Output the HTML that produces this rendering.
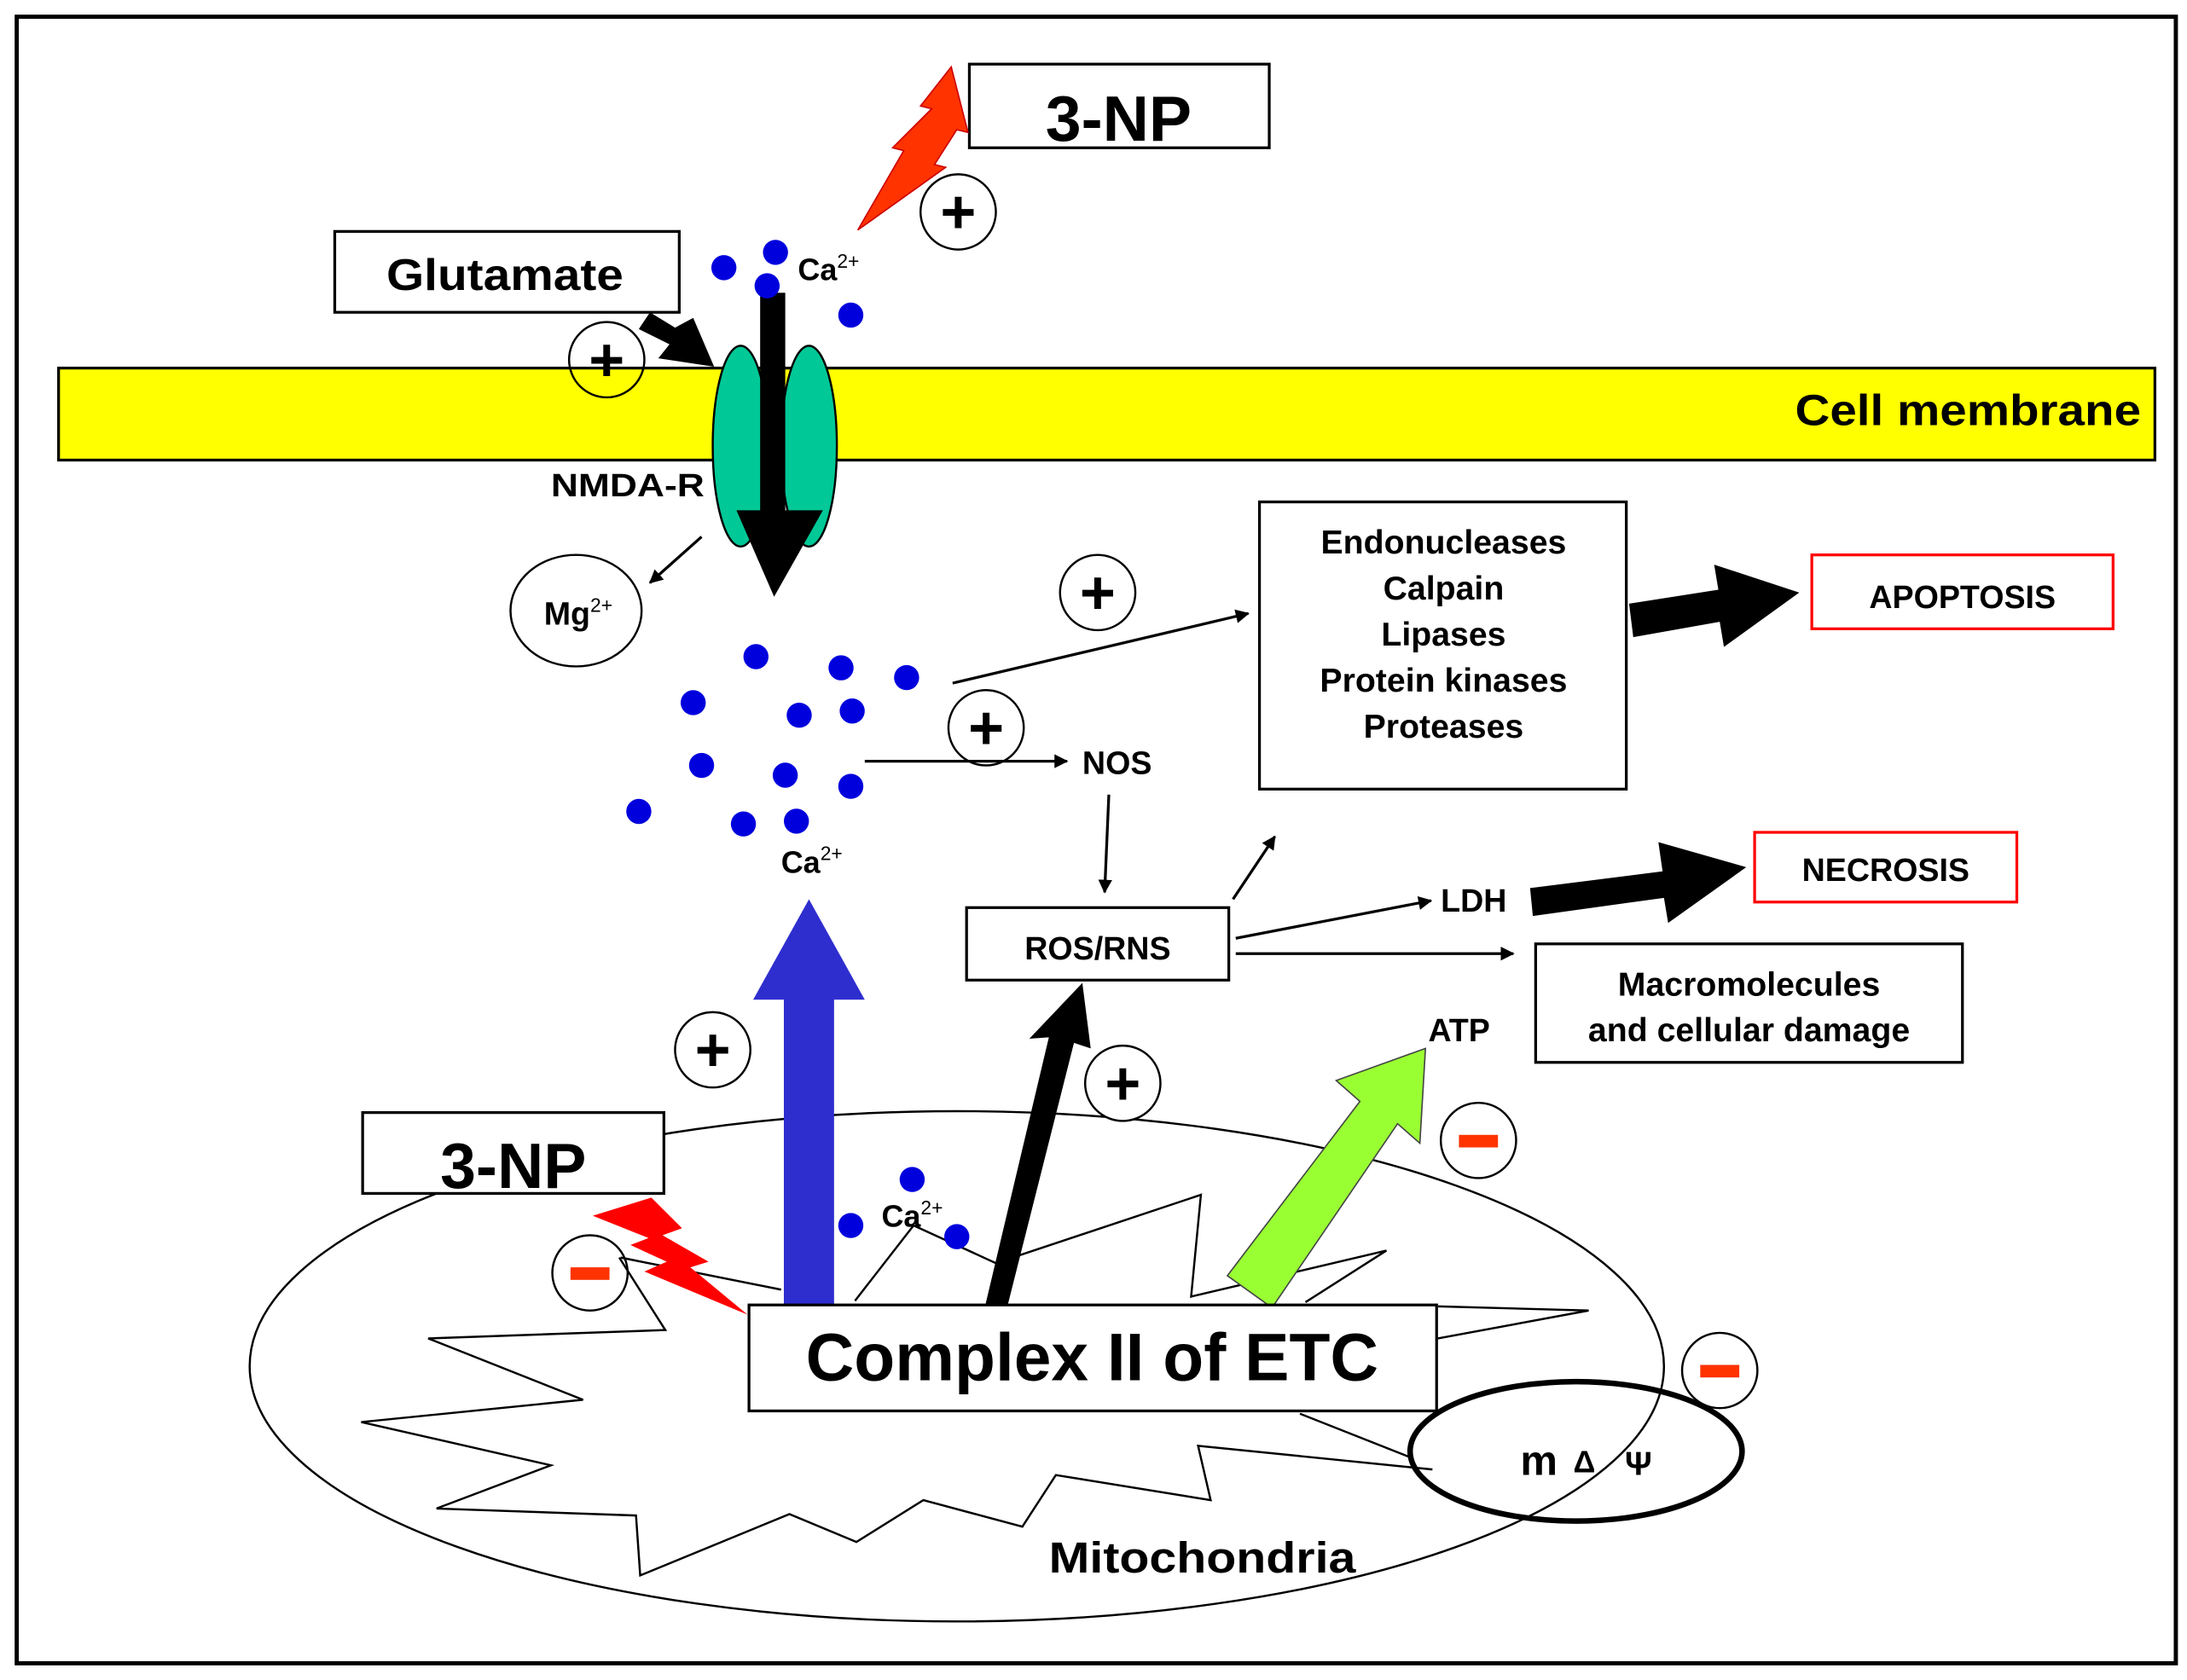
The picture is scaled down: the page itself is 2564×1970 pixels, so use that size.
<!DOCTYPE html>
<html><head><meta charset="utf-8"><style>
html,body{margin:0;padding:0;background:#fff;}
svg{display:block;}
text{font-family:"Liberation Sans",Arial,sans-serif;font-weight:bold;fill:#000;}
</style></head><body>
<svg width="2564" height="1970" viewBox="0 0 1568 1205" preserveAspectRatio="none" xmlns="http://www.w3.org/2000/svg">
<defs>
<marker id="ah" markerWidth="10" markerHeight="10" refX="9" refY="5" orient="auto" markerUnits="userSpaceOnUse"><path d="M0,0 L18,5 L0,10 z" transform="scale(0.55,1)" fill="#000"/></marker>
</defs>
<rect x="0" y="0" width="1568" height="1205" fill="#fff"/>
<rect x="12" y="12" width="1548" height="1181" fill="none" stroke="#000" stroke-width="3"/>

<!-- membrane -->
<rect x="42" y="264" width="1503" height="66" fill="#ffff00" stroke="#000" stroke-width="2"/>
<text x="1287" y="305" font-size="31" textLength="248" lengthAdjust="spacingAndGlyphs">Cell membrane</text>

<!-- mitochondria -->
<ellipse cx="686" cy="980" rx="507" ry="183" fill="none" stroke="#000" stroke-width="1.5"/>
<polyline fill="none" stroke="#000" stroke-width="1.5" points="444,902 477,954 307,960 418,1004 259,1020 395,1051 313,1082 456,1087 459,1130 566,1086 614,1106 662,1076 733,1095 757,1058 868,1076 859,1037 1027,1054"/>
<polyline fill="none" stroke="#000" stroke-width="1.5" points="445,902 560,925"/>
<polyline fill="none" stroke="#000" stroke-width="1.5" points="613,933 655,879 714,906 861,857 854,930 994,897 936,934"/>
<polyline fill="none" stroke="#000" stroke-width="1.5" points="1031,937 1139,940 1031,960"/>
<line x1="932" y1="1014" x2="1013" y2="1046" stroke="#000" stroke-width="1.5"/>
<text x="752" y="1128" font-size="31" textLength="220" lengthAdjust="spacingAndGlyphs">Mitochondria</text>

<!-- mΔΨ -->
<ellipse cx="1130" cy="1041" rx="119" ry="50" fill="none" stroke="#000" stroke-width="4"/>
<text x="1090" y="1058" font-size="30">m</text>
<text x="1128" y="1056" font-size="22" font-weight="normal">Δ</text>
<text x="1165" y="1058" font-size="24">Ψ</text>

<!-- glutamate -->
<rect x="240" y="166" width="247" height="58" fill="#fff" stroke="#000" stroke-width="2"/>
<text x="277" y="208" font-size="32" textLength="170" lengthAdjust="spacingAndGlyphs">Glutamate</text>
<polygon points="458,236 466,224 484,235 497,228 512,263 472,257 480,247" fill="#000"/>

<!-- top 3-NP -->
<rect x="695" y="46" width="215" height="60" fill="#fff" stroke="#000" stroke-width="2"/>
<text x="802" y="101" font-size="46" text-anchor="middle">3-NP</text>
<polygon points="615,165 648,108 640,106 668,78 660,76 682,48 694,95 686,93 670,118 678,120" fill="#ff3300" stroke="#cc0000" stroke-width="1"/>

<!-- NMDA-R -->
<ellipse cx="531" cy="320" rx="20" ry="72" fill="#00c897" stroke="#000" stroke-width="1.5"/>
<ellipse cx="580" cy="320" rx="20" ry="72" fill="#00c897" stroke="#000" stroke-width="1.5"/>
<rect x="545" y="210" width="18" height="158" fill="#000"/>
<polygon points="528,366 590,366 555,428" fill="#000"/>
<text x="395" y="356" font-size="23" textLength="110" lengthAdjust="spacingAndGlyphs">NMDA-R</text>

<!-- Ca -->
<g fill="#0000dd">
<circle cx="519" cy="192" r="9"/><circle cx="556" cy="181" r="9"/><circle cx="550" cy="205" r="9"/><circle cx="610" cy="226" r="9"/>
<circle cx="542" cy="471" r="9"/><circle cx="603" cy="479" r="9"/><circle cx="650" cy="486" r="9"/><circle cx="497" cy="504" r="9"/>
<circle cx="573" cy="513" r="9"/><circle cx="611" cy="510" r="9"/><circle cx="503" cy="549" r="9"/><circle cx="563" cy="556" r="9"/>
<circle cx="610" cy="564" r="9"/><circle cx="458" cy="582" r="9"/><circle cx="533" cy="591" r="9"/><circle cx="571" cy="589" r="9"/>
<circle cx="654" cy="846" r="9"/><circle cx="610" cy="879" r="9"/><circle cx="686" cy="887" r="9"/>
</g>
<text x="572" y="201" font-size="22">Ca<tspan font-size="14" dy="-9" font-weight="normal">2+</tspan></text>
<text x="560" y="626" font-size="22">Ca<tspan font-size="14" dy="-9" font-weight="normal">2+</tspan></text>
<text x="632" y="880" font-size="22">Ca<tspan font-size="14" dy="-9" font-weight="normal">2+</tspan></text>

<!-- Mg -->
<ellipse cx="413" cy="438" rx="47" ry="40" fill="none" stroke="#000" stroke-width="1.5"/>
<text x="390" y="448" font-size="23">Mg<tspan font-size="14" dy="-9" font-weight="normal">2+</tspan></text>
<line x1="503" y1="385" x2="466" y2="418" stroke="#000" stroke-width="2" marker-end="url(#ah)"/>

<!-- plus circles -->
<g stroke="#000" stroke-width="1.5" fill="#fff">
<circle cx="687" cy="152" r="27"/><circle cx="435" cy="258" r="27" fill="none"/><circle cx="787" cy="425" r="27"/>
<circle cx="707" cy="522" r="27" fill="none"/><circle cx="511" cy="753" r="27"/><circle cx="805" cy="777" r="27"/>
</g>
<g font-size="44" font-weight="normal" text-anchor="middle">
<text x="687" y="167">+</text><text x="435" y="273">+</text><text x="787" y="440">+</text>
<text x="707" y="537">+</text><text x="511" y="768">+</text><text x="805" y="792">+</text>
</g>

<!-- arrows -->
<line x1="683" y1="490" x2="895" y2="440" stroke="#000" stroke-width="2" marker-end="url(#ah)"/>
<line x1="620" y1="546" x2="765" y2="546" stroke="#000" stroke-width="2" marker-end="url(#ah)"/>
<text x="776" y="555" font-size="23">NOS</text>
<line x1="795" y1="570" x2="792" y2="640" stroke="#000" stroke-width="2" marker-end="url(#ah)"/>

<!-- enzymes -->
<rect x="903" y="360" width="263" height="206" fill="#fff" stroke="#000" stroke-width="2"/>
<g font-size="24" text-anchor="middle">
<text x="1035" y="397">Endonucleases</text><text x="1035" y="430">Calpain</text><text x="1035" y="463">Lipases</text>
<text x="1035" y="496">Protein kinases</text><text x="1035" y="529">Proteases</text>
</g>
<polygon points="1168,433 1232,423 1229,405 1290,425 1236,464 1233,446 1171,457" fill="#000"/>
<rect x="1299" y="398" width="216" height="53" fill="#fff" stroke="#ff0000" stroke-width="2"/>
<text x="1407" y="436" font-size="23" text-anchor="middle">APOPTOSIS</text>

<!-- ROS -->
<rect x="693" y="651" width="188" height="52" fill="#fff" stroke="#000" stroke-width="2"/>
<text x="787" y="688" font-size="23" text-anchor="middle">ROS/RNS</text>
<line x1="884" y1="645" x2="914" y2="600" stroke="#000" stroke-width="2" marker-end="url(#ah)"/>
<line x1="886" y1="673" x2="1026" y2="646" stroke="#000" stroke-width="2" marker-end="url(#ah)"/>
<text x="1033" y="654" font-size="23">LDH</text>
<polygon points="1097,637 1192,625 1189,604 1252,622 1196,662 1193,644 1099,657" fill="#000"/>
<rect x="1258" y="597" width="188" height="50" fill="#fff" stroke="#ff0000" stroke-width="2"/>
<text x="1352" y="632" font-size="23" text-anchor="middle">NECROSIS</text>
<line x1="886" y1="684" x2="1085" y2="684" stroke="#000" stroke-width="2" marker-end="url(#ah)"/>
<rect x="1101" y="677" width="306" height="85" fill="#fff" stroke="#000" stroke-width="2"/>
<text x="1254" y="714" font-size="24" text-anchor="middle">Macromolecules</text>
<text x="1254" y="747" font-size="24" text-anchor="middle">and cellular damage</text>
<text x="1024" y="747" font-size="23">ATP</text>

<!-- blue arrow -->
<rect x="562" y="716" width="36" height="222" fill="#2e2ecf"/>
<polygon points="540,717 620,717 580,645" fill="#2e2ecf"/>
<!-- black arrow -->
<polygon points="706,938 722,938 770,748 782,752 776,705 738,745 752,744" fill="#000"/>
<!-- green arrow -->
<polygon points="880,915 975,790 958,775 1022,752 1018,820 1002,806 912,938" fill="#99ff33" stroke="#444" stroke-width="1"/>
<!-- lower 3-NP -->
<rect x="260" y="798" width="216" height="58" fill="#fff" stroke="#000" stroke-width="2"/>
<text x="368" y="852" font-size="46" text-anchor="middle">3-NP</text>
<polygon points="425,872 467,859 489,881 475,886 508,905 495,909 536,943 462,912 478,905 452,893 465,888" fill="#ff0000"/>

<!-- complex II -->
<rect x="537" y="936" width="493" height="76" fill="#fff" stroke="#000" stroke-width="2"/>
<text x="783" y="990" font-size="48" text-anchor="middle">Complex II of ETC</text>

<!-- minus circles -->
<g stroke="#000" stroke-width="1.5" fill="none">
<circle cx="1060" cy="818" r="27"/><circle cx="423" cy="913" r="27"/><circle cx="1233" cy="983" r="27"/>
</g>
<g fill="#ff3300">
<rect x="1046" y="814" width="28" height="9"/><rect x="409" y="909" width="28" height="9"/><rect x="1219" y="979" width="28" height="9"/>
</g>
</svg>
</body></html>
